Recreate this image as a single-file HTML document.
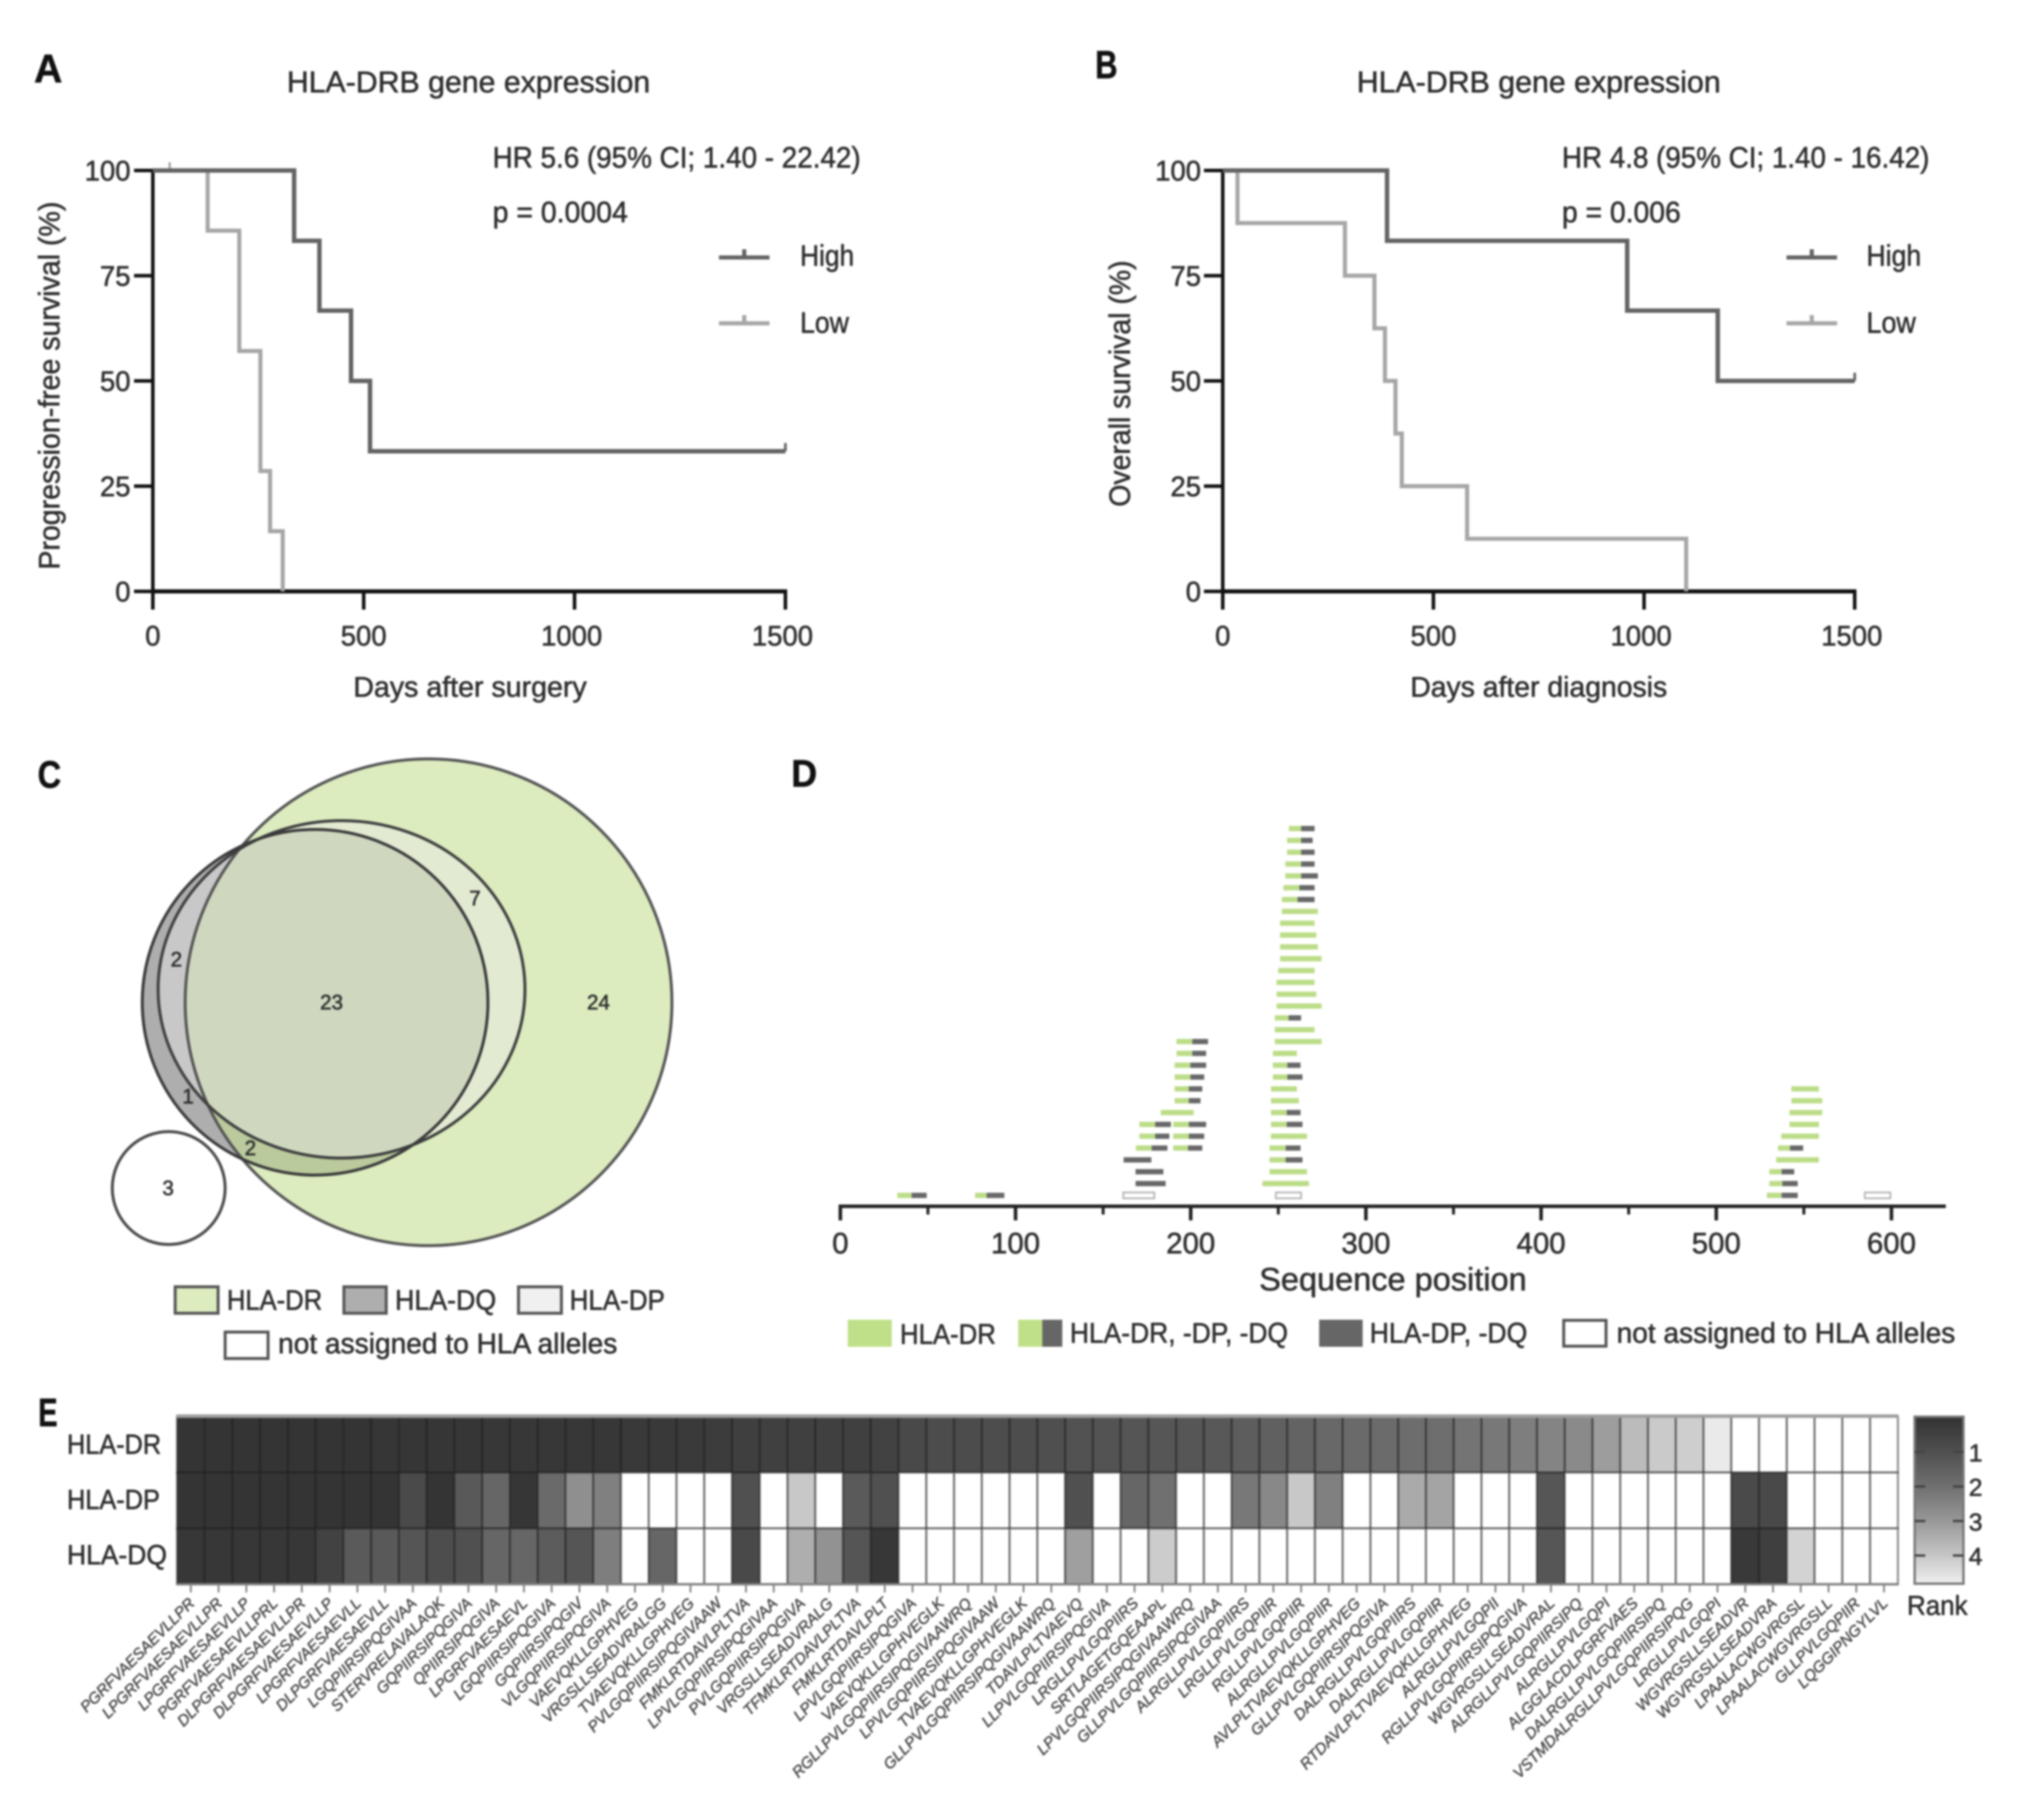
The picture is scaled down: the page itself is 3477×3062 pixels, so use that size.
<!DOCTYPE html>
<html lang="en">
<head>
<meta charset="utf-8">
<title>HLA-DRB figure</title>
<style>
html,body{margin:0;padding:0;background:#fff;}
svg{display:block;filter:blur(1.6px);}
text{font-family:"Liberation Sans",sans-serif;fill:#2e2e2e;stroke:#2e2e2e;stroke-width:.9px;}
.bold{font-weight:bold;fill:#111;stroke:#111;}
</style>
</head>
<body>
<svg id="figure" xmlns="http://www.w3.org/2000/svg" width="3477" height="3062" viewBox="0 0 3477 3062">
<rect width="3477" height="3062" fill="#fff"/>
<defs><linearGradient id="rank-gradient" x1="0" y1="0" x2="0" y2="1"></linearGradient></defs>

<!-- Panel letters -->
<text class="bold" x="58" y="140" font-size="68" textLength="48" lengthAdjust="spacingAndGlyphs">A</text>
<text class="bold" x="1863" y="133" font-size="67" textLength="38" lengthAdjust="spacingAndGlyphs">B</text>
<text class="bold" x="64" y="1340" font-size="65" textLength="40" lengthAdjust="spacingAndGlyphs">C</text>
<text class="bold" x="1346" y="1338" font-size="65" textLength="44" lengthAdjust="spacingAndGlyphs">D</text>
<text class="bold" x="65" y="2426" font-size="68" textLength="33" lengthAdjust="spacingAndGlyphs">E</text>

<!-- Panel A static text -->
<text x="488" y="157" font-size="51" textLength="618" lengthAdjust="spacingAndGlyphs">HLA-DRB gene expression</text>
<text x="838" y="285" font-size="50" textLength="626" lengthAdjust="spacingAndGlyphs">HR 5.6 (95% CI; 1.40 - 22.42)</text>
<text x="838" y="378" font-size="50" textLength="230" lengthAdjust="spacingAndGlyphs">p = 0.0004</text>
<text x="1361" y="452" font-size="50" textLength="92" lengthAdjust="spacingAndGlyphs">High</text>
<text x="1361" y="566" font-size="50" textLength="83" lengthAdjust="spacingAndGlyphs">Low</text>
<text x="601" y="1185" font-size="48" textLength="397" lengthAdjust="spacingAndGlyphs">Days after surgery</text>
<text transform="translate(101,969) rotate(-90)" font-size="50" textLength="626" lengthAdjust="spacingAndGlyphs">Progression-free survival (%)</text>

<!-- Panel B static text -->
<text x="2308" y="157" font-size="51" textLength="619" lengthAdjust="spacingAndGlyphs">HLA-DRB gene expression</text>
<text x="2657" y="285" font-size="50" textLength="625" lengthAdjust="spacingAndGlyphs">HR 4.8 (95% CI; 1.40 - 16.42)</text>
<text x="2657" y="378" font-size="50" textLength="202" lengthAdjust="spacingAndGlyphs">p = 0.006</text>
<text x="3175" y="452" font-size="50" textLength="93" lengthAdjust="spacingAndGlyphs">High</text>
<text x="3175" y="566" font-size="50" textLength="84" lengthAdjust="spacingAndGlyphs">Low</text>
<text x="2399" y="1185" font-size="48" textLength="437" lengthAdjust="spacingAndGlyphs">Days after diagnosis</text>
<text transform="translate(1922,862) rotate(-90)" font-size="50" textLength="419" lengthAdjust="spacingAndGlyphs">Overall survival (%)</text>

<!-- Panel C Venn -->
<g>
<circle cx="536" cy="1705" r="294" fill="#aeaeae"/>
<circle cx="729" cy="1705" r="414" fill="rgb(195,222,145)" fill-opacity="0.58"/>
<ellipse cx="581" cy="1683" rx="312" ry="287" fill="#e9e9e9" fill-opacity="0.45"/>
<circle cx="729" cy="1705" r="414" fill="none" stroke="#555" stroke-width="5"/>
<ellipse cx="581" cy="1683" rx="312" ry="287" fill="none" stroke="#3f3f3f" stroke-width="5"/>
<circle cx="536" cy="1705" r="294" fill="none" stroke="#3a3a3a" stroke-width="5"/>
<circle cx="287" cy="2021" r="96" fill="#fff" stroke="#4a4a4a" stroke-width="5"/>
<text x="564" y="1717" font-size="35" text-anchor="middle">23</text>
<text x="1018" y="1717" font-size="35" text-anchor="middle">24</text>
<text x="808" y="1540" font-size="35" text-anchor="middle">7</text>
<text x="300" y="1644" font-size="35" text-anchor="middle">2</text>
<text x="320" y="1877" font-size="35" text-anchor="middle">1</text>
<text x="426" y="1965" font-size="35" text-anchor="middle">2</text>
<text x="286" y="2033" font-size="35" text-anchor="middle">3</text>
</g>
<g>
<rect x="298" y="2189" width="73" height="45" fill="#dcecbf" stroke="#555" stroke-width="5"/>
<text x="386" y="2228" font-size="48" textLength="162" lengthAdjust="spacingAndGlyphs">HLA-DR</text>
<rect x="585" y="2189" width="72" height="45" fill="#aeaeae" stroke="#555" stroke-width="5"/>
<text x="672" y="2228" font-size="48" textLength="172" lengthAdjust="spacingAndGlyphs">HLA-DQ</text>
<rect x="882" y="2189" width="73" height="45" fill="#f0f0f0" stroke="#555" stroke-width="5"/>
<text x="969" y="2228" font-size="48" textLength="162" lengthAdjust="spacingAndGlyphs">HLA-DP</text>
<rect x="383" y="2266" width="73" height="45" fill="#fff" stroke="#555" stroke-width="5"/>
<text x="473" y="2302" font-size="48" textLength="577" lengthAdjust="spacingAndGlyphs">not assigned to HLA alleles</text>
</g>

<!-- Panel D static text -->
<text x="2142" y="2195" font-size="55" textLength="455" lengthAdjust="spacingAndGlyphs">Sequence position</text>
<g>
<rect x="1442" y="2245" width="75" height="46" fill="#bfe088"/>
<text x="1531" y="2286" font-size="48" textLength="163" lengthAdjust="spacingAndGlyphs">HLA-DR</text>
<rect x="1732" y="2245" width="41" height="46" fill="#bfe088"/>
<rect x="1773" y="2245" width="34" height="46" fill="#666"/>
<text x="1820" y="2284" font-size="48" textLength="371" lengthAdjust="spacingAndGlyphs">HLA-DR, -DP, -DQ</text>
<rect x="2244" y="2245" width="74" height="46" fill="#666"/>
<text x="2330" y="2284" font-size="48" textLength="268" lengthAdjust="spacingAndGlyphs">HLA-DP, -DQ</text>
<rect x="2660" y="2246" width="72" height="44" fill="#fff" stroke="#555" stroke-width="5"/>
<text x="2750" y="2284" font-size="48" textLength="576" lengthAdjust="spacingAndGlyphs">not assigned to HLA alleles</text>
</g>

<!-- Panel E static text -->
<text x="114" y="2473" font-size="47" textLength="160" lengthAdjust="spacingAndGlyphs">HLA-DR</text>
<text x="114" y="2567" font-size="47" textLength="158" lengthAdjust="spacingAndGlyphs">HLA-DP</text>
<text x="114" y="2661" font-size="47" textLength="170" lengthAdjust="spacingAndGlyphs">HLA-DQ</text>
<text x="3244" y="2747" font-size="46" textLength="103" lengthAdjust="spacingAndGlyphs">Rank</text>
</svg>

<script>
// ---------- Panel A data ----------
const panelAHighTimes = [335, 395, 470, 515, 1500];
const panelAHighSurvival = [100, 83.3, 66.7, 50, 33.3];
const panelALowTimes = [130, 205, 255, 278, 308];
const panelALowSurvival = [100, 85.7, 57.1, 28.6, 14.3, 0];
const panelACensoredHigh = [[1500, 33.3]];
const panelACensoredLow = [[40, 100]];
// ---------- Panel B data ----------
const panelBHighTimes = [390, 960, 1175, 1500];
const panelBHighSurvival = [100, 83.3, 66.7, 50];
const panelBLowTimes = [35, 290, 360, 385, 410, 425, 580, 1100];
const panelBLowSurvival = [100, 87.5, 75, 62.5, 50, 37.5, 25, 12.5, 0];
const panelBCensoredHigh = [[1500, 50]];
const panelBCensoredLow = [];
// ---------- Shared KM axes ----------
const survivalTicks = [0, 25, 50, 75, 100];
const dayTicks = [0, 500, 1000, 1500];

// ---------- Panel D data: [row, start, split, end] in sequence positions ----------
const mixedPeptides = [
 [0,32.5,40.7,49.3],[0,76.9,83.5,93.6],[3,245,254.2,263.8],[4,168.7,177.7,186.7],[4,190,198.5,206.6],[4,245,254.2,262.7],
 [5,170.7,179.7,187.8],[5,190,198.9,207.7],[6,170.7,179.7,188.7],[6,190,198.9,208.8],[6,245.8,254.8,263.8],[7,245.8,254.8,262.7],
 [8,190.8,198.9,205.6],[9,190.8,198.9,206.6],[10,190.8,199.8,207.7],[10,246.9,255.2,263.8],[11,190.8,199.8,208.8],[11,246.9,255.2,262.7],
 [12,191.9,200.9,208.8],[13,191.9,200.9,209.9],[15,248,255.9,263],[25,252,261,270.7],[26,252.9,262,270.7],[27,254,263,272.6],
 [28,254,263,270.7],[29,255,263,270.7],[30,255,263,269.6],[31,256,263,270.7],
 [0,528.9,537.3,546.5],[1,530.3,537.7,546.5],[2,530.3,537.3,544.5],[4,535.2,542.1,549.6]
];
const drPeptides = [
 [1,240.9,267.5],[2,245,266.4],[5,245.8,266.4],[7,182.9,201.7],[8,245.8,261.7],[9,245.8,260.6],[12,246.9,260.6],[13,248,274.7],
 [14,248,270.7],[16,249,274.7],[17,249,271.7],[18,249,270.7],[19,249.9,270.7],[20,251,274.7],[21,251,272.6],[22,251,271.7],
 [23,251,270.7],[24,252,272.6],[3,534.2,558.6],[5,537.1,558.6],[6,541.8,558.6],[7,541.8,560.5],[8,542.9,560.5],[9,542.9,558.6]
];
const dpDqPeptides = [[1,168.5,185.7],[2,168.5,184.4],[3,161.7,177.5]];
const unassignedPeptides = [[0,161.5,179.2],[0,248.6,263],[0,584.8,599.4]];
const sequenceTicks = [0, 100, 200, 300, 400, 500, 600];
const sequenceMinorTicks = [50, 150, 250, 350, 450, 550];

// ---------- Panel E data ----------
const _ = null;
const peptideLabels = ["PGRFVAESAEVLLPR","LPGRFVAESAEVLLPR","LPGRFVAESAEVLLP","PGRFVAESAEVLLPRL","DLPGRFVAESAEVLLPR","DLPGRFVAESAEVLLP","LPGRFVAESAEVLL","DLPGRFVAESAEVLL","LGQPIIRSIPQGIVAA","STERVRELAVALAQK","GQPIIRSIPQGIVA","QPIIRSIPQGIVA","LPGRFVAESAEVL","LGQPIIRSIPQGIVA","GQPIIRSIPQGIV","VLGQPIIRSIPQGIVA","VAEVQKLLGPHVEG","VRGSLLSEADVRALGG","TVAEVQKLLGPHVEG","PVLGQPIIRSIPQGIVAAW","FMKLRTDAVLPLTVA","LPVLGQPIIRSIPQGIVAA","PVLGQPIIRSIPQGIVA","VRGSLLSEADVRALG","TFMKLRTDAVLPLTVA","FMKLRTDAVLPLT","LPVLGQPIIRSIPQGIVA","VAEVQKLLGPHVEGLK","RGLLPVLGQPIIRSIPQGIVAAWRQ","LPVLGQPIIRSIPQGIVAAW","TVAEVQKLLGPHVEGLK","GLLPVLGQPIIRSIPQGIVAAWRQ","TDAVLPLTVAEVQ","LLPVLGQPIIRSIPQGIVA","LRGLLPVLGQPIIRS","SRTLAGETGQEAAPL","LPVLGQPIIRSIPQGIVAAWRQ","GLLPVLGQPIIRSIPQGIVAA","ALRGLLPVLGQPIIRS","LRGLLPVLGQPIIR","RGLLPVLGQPIIR","ALRGLLPVLGQPIIR","AVLPLTVAEVQKLLGPHVEG","GLLPVLGQPIIRSIPQGIVA","DALRGLLPVLGQPIIRS","DALRGLLPVLGQPIIR","RTDAVLPLTVAEVQKLLGPHVEG","ALRGLLPVLGQPII","RGLLPVLGQPIIRSIPQGIVA","WGVRGSLLSEADVRAL","ALRGLLPVLGQPIIRSIPQ","ALRGLLPVLGQPI","ALGGLACDLPGRFVAES","DALRGLLPVLGQPIIRSIPQ","VSTMDALRGLLPVLGQPIIRSIPQG","LRGLLPVLGQPI","WGVRGSLLSEADVR","WGVRGSLLSEADVRA","LPAALACWGVRGSL","LPAALACWGVRGSLL","GLLPVLGQPIIR","LQGGIPNGYLVL"];
const rankDR = [.05,.05,.05,.05,.05,.05,.05,.1,.1,.1,.1,.15,.15,.15,.15,.15, .2,.2,.25,.3,.4,.45,.45,.45,.45,.5, .75,.85,.85,.9,.9,.95, 1.05,1.1,1.15,1.2,1.2,1.25, 1.4,1.5,1.6,1.75,1.8,1.85,1.9,1.95,2.1,2.2,2.35, 2.5,2.65,3.1,3.75,4.1,4.2,4.85, _,_,_,_,_,_];
const rankDP = [.05,.05,.05,.05,.05,.05,.05,.05,.8,.05,1.28,1.69,.1,1.8,2.78,2.4, _,_,_,_,1,_,4.05,_,1.3,1, _,_,_,_,_,_, 1,_,1.69,2,_,_, 2.2,2.6,4.05,2.4,_,_,3.4,3.25,_,_,_, 1.2,_,_,_,_,_,_, .8,.75,_,_,_,_];
const rankDQ = [.15,.15,.15,.15,.15,.5,1.3,1.28,1.16,.9,1,1.69,1.69,1.38,1.16,2.35, _,1.69,_,_,.75,_,3.48,2.85,1.16,.15, _,_,_,_,_,_, 3.15,_,_,4.15,_,_, _,_,_,_,_,_,_,_,_,_,_, 1.2,_,_,_,_,_,_, .2,.4,4.3,_,_,_];
const heatmapRows = ["HLA-DR", "HLA-DP", "HLA-DQ"];
const rankTicks = [1, 2, 3, 4];
const rankStops = [0, 1, 2, 3, 4, 5];
const rankGrays = [51, 80, 112, 152, 198, 240];

const svg = document.getElementById('figure');
const NS = 'http://www.w3.org/2000/svg';
function make(tag, attrs, parent) {
  const el = document.createElementNS(NS, tag);
  for (const k in attrs) el.setAttribute(k, attrs[k]);
  (parent || svg).appendChild(el);
  return el;
}

// ---------- Kaplan-Meier panels ----------
function stepPath(times, values, sx, sy) {
  let d = 'M' + sx(0) + ' ' + sy(values[0]);
  times.forEach(function (t, i) {
    d += ' H' + sx(t);
    if (i + 1 < values.length) d += ' V' + sy(values[i + 1]);
  });
  return d;
}
function drawKM(prefix, x0, x1, labelRight, high, highVals, low, lowVals, cHigh, cLow, legX) {
  const sx = function (v) { return x0 + v * (x1 - x0) / 1500; };
  const sy = function (v) { return 1006 - v * (1006 - 290) / 100; };
  const g = make('g', {});
  
  
  const yAxis = make('line', { x1: x0, x2: x0, y1: sy(100) - 3, y2: sy(0) + 3, stroke: '#111', 'stroke-width': 6 }, g);
  
  
  const xAxis = make('line', { x1: x0 - 3, x2: x1 + 3, y1: sy(0), y2: sy(0), stroke: '#111', 'stroke-width': 7 }, g);
  
  
  const lowPath = make('path', { d: stepPath(low, lowVals, sx, sy), fill: 'none', stroke: '#a6a6a6', 'stroke-width': 7 }, g);
  
  
  cLow.forEach(function (c) {
    const t = make('line', { x1: sx(c[0]), x2: sx(c[0]), y1: sy(c[1]), y2: sy(c[1]) - 14, stroke: '#a6a6a6', 'stroke-width': 4 }, g);
    
    
  });
  const highPath = make('path', { d: stepPath(high, highVals, sx, sy), fill: 'none', stroke: '#636363', 'stroke-width': 7.5 }, g);
  
  
  cHigh.forEach(function (c) {
    const t = make('line', { x1: sx(c[0]), x2: sx(c[0]), y1: sy(c[1]), y2: sy(c[1]) - 14, stroke: '#636363', 'stroke-width': 4.5 }, g);
    
    
  });
  survivalTicks.forEach(function (v) {
    const t = make('line', { x1: x0 - 32, x2: x0, y1: sy(v), y2: sy(v), stroke: '#111', 'stroke-width': 6 }, g);
    
    
    const l = make('text', { x: labelRight, y: sy(v) + 17, 'font-size': 48, 'text-anchor': 'end', textLength: String(v).length * 26, lengthAdjust: 'spacingAndGlyphs' }, g);
    l.textContent = v;
    
    
  });
  dayTicks.forEach(function (v) {
    const t = make('line', { x1: sx(v), x2: sx(v), y1: sy(0), y2: sy(0) + 31, stroke: '#111', 'stroke-width': 6 }, g);
    
    
    const l = make('text', { x: sx(v) - (v >= 1000 ? 5 : 0), y: 1098, 'font-size': 48, 'text-anchor': 'middle', textLength: String(v).length * 26, lengthAdjust: 'spacingAndGlyphs' }, g);
    l.textContent = v;
    
    
  });
  // legend marks
  const lh = make('path', { d: 'M' + legX + ' 438 h86 M' + (legX + 43) + ' 438 v-14', fill: 'none', stroke: '#636363', 'stroke-width': 7 }, g);
  
  
  const ll = make('path', { d: 'M' + legX + ' 550 h86 M' + (legX + 43) + ' 550 v-14', fill: 'none', stroke: '#a6a6a6', 'stroke-width': 7 }, g);
  
  
}
drawKM('panel-a', 260, 1336, 222, panelAHighTimes, panelAHighSurvival, panelALowTimes, panelALowSurvival, panelACensoredHigh, panelACensoredLow, 1223);
drawKM('panel-b', 2080, 3155, 2043, panelBHighTimes, panelBHighSurvival, panelBLowTimes, panelBLowSurvival, panelBCensoredHigh, panelBCensoredLow, 3039);

// ---------- Peptide map ----------
const seqX = function (v) { return 1429.5 + v * 2.98; };
const rowY = function (r) { return 2033.5 - r * 20.13; };
const peptideGroup = make('g', {});


const barH = 9;
const green = '#bcdd88';
const darkGray = '#686868';
function bar(row, a, b, fill, name) {
  const r = make('rect', { x: seqX(a), y: rowY(row) - barH / 2, width: seqX(b) - seqX(a), height: barH, fill: fill }, peptideGroup);
  
  
}
drPeptides.forEach(function (p) { bar(p[0], p[1], p[2], green, 'peptide-bar-dr'); });
dpDqPeptides.forEach(function (p) { bar(p[0], p[1], p[2], darkGray, 'peptide-bar-dp-dq'); });
mixedPeptides.forEach(function (p) {
  bar(p[0], p[1], p[2], green, 'peptide-bar-mixed-dr-part');
  bar(p[0], p[2], p[3], darkGray, 'peptide-bar-mixed-dp-dq-part');
});
unassignedPeptides.forEach(function (p) {
  const r = make('rect', { x: seqX(p[1]), y: rowY(p[0]) - 5, width: seqX(p[2]) - seqX(p[1]), height: 10, fill: '#fff', stroke: '#b5b5b5', 'stroke-width': 3 }, peptideGroup);
  
  
});
const seqAxis = make('line', { x1: seqX(0) - 3, x2: 3310, y1: 2052, y2: 2052, stroke: '#222', 'stroke-width': 6 }, peptideGroup);


sequenceTicks.forEach(function (v) {
  const t = make('line', { x1: seqX(v), x2: seqX(v), y1: 2052, y2: 2076, stroke: '#222', 'stroke-width': 6 }, peptideGroup);
  
  
  const l = make('text', { x: seqX(v), y: 2132, 'font-size': 50, 'text-anchor': 'middle' }, peptideGroup);
  l.textContent = v;
  
  
});
sequenceMinorTicks.forEach(function (v) {
  const t = make('line', { x1: seqX(v), x2: seqX(v), y1: 2052, y2: 2066, stroke: '#222', 'stroke-width': 5 }, peptideGroup);
  
  
});

// ---------- Heatmap ----------
const heatLeft = 301, heatRight = 3228.5, heatTop = 2410, heatRowH = 95;
const colW = (heatRight - heatLeft) / peptideLabels.length;
const colX = function (i) { return heatLeft + i * colW; };
const heatRowY = function (r) { return heatTop + r * heatRowH; };
function rankGray(v) {
  for (let i = 1; i < rankStops.length; i++) {
    if (v <= rankStops[i]) {
      const f = (v - rankStops[i - 1]) / (rankStops[i] - rankStops[i - 1]);
      const g = Math.round(rankGrays[i - 1] + f * (rankGrays[i] - rankGrays[i - 1]));
      return 'rgb(' + g + ',' + g + ',' + g + ')';
    }
  }
  return '#f0f0f0';
}
const heatGroup = make('g', {});


[rankDR, rankDP, rankDQ].forEach(function (rowVals, r) {
  rowVals.forEach(function (v, i) {
    const c = make('rect', { x: colX(i), y: heatRowY(r), width: colW, height: heatRowH, fill: v === null ? '#fff' : rankGray(v), stroke: 'rgb(30,30,30)', 'stroke-opacity': 0.5, 'stroke-width': 3.5 }, heatGroup);
    
    
  });
});
const heatTopLine = make('line', { x1: heatLeft - 1, x2: heatRight + 1, y1: heatTop - 1, y2: heatTop - 1, stroke: '#a0a0a0', 'stroke-width': 6 }, heatGroup);


const heatBottomLine = make('line', { x1: heatLeft - 1, x2: heatRight + 1, y1: heatRowY(3), y2: heatRowY(3), stroke: '#808080', 'stroke-width': 4 }, heatGroup);


peptideLabels.forEach(function (name, i) {
  const cx = colX(i) + colW / 2;
  const t = make('line', { x1: cx, x2: cx, y1: heatRowY(3), y2: heatRowY(3) + 14, stroke: '#808080', 'stroke-width': 3 }, heatGroup);
  
  
  const l = make('text', { transform: 'translate(' + (cx + 8) + ',2729) rotate(-45)', 'font-size': 26.5, 'font-style': 'italic', 'text-anchor': 'end' }, heatGroup);
  l.style.fill = '#484848';
  l.style.stroke = '#484848';
  l.style.strokeWidth = '.7px';
  l.textContent = name;
  
  
});

// ---------- Colorbar ----------
const barTop = 2410, barBottom = 2694, barLeft = 3257, barRight = 3340;
const rankY = function (v) { return 2470 + (v - 1) * 58.7; };
const grad = document.getElementById('rank-gradient');
rankStops.forEach(function (v, i) {
  const off = Math.max(0, Math.min(1, (rankY(v) - barTop) / (barBottom - barTop)));
  const g = rankGrays[i];
  make('stop', { offset: off, 'stop-color': 'rgb(' + g + ',' + g + ',' + g + ')' }, grad);
});
const cbar = make('rect', { x: barLeft, y: barTop, width: barRight - barLeft, height: barBottom - barTop, fill: 'url(#rank-gradient)', stroke: '#777', 'stroke-width': 4 });


rankTicks.forEach(function (v) {
  const a = make('line', { x1: barLeft, x2: barLeft + 18, y1: rankY(v), y2: rankY(v), stroke: '#444', 'stroke-width': 4 });
  
  
  const b = make('line', { x1: barRight - 18, x2: barRight, y1: rankY(v), y2: rankY(v), stroke: '#444', 'stroke-width': 4 });
  
  
  const l = make('text', { x: 3349, y: rankY(v) + 16, 'font-size': 42 });
  l.textContent = v;
  
  
});
</script>
</body>
</html>
